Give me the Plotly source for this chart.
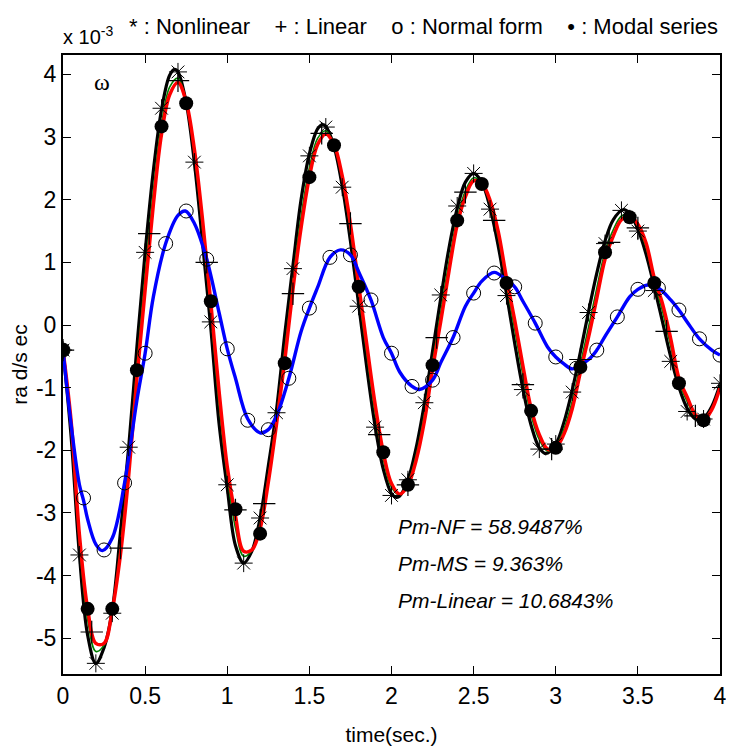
import plotly.graph_objects as go

# time axis (s) and responses in units of 1e-3 rad/sec
# nonlinear (black)
t_nl = [0.0, 0.05, 0.1, 0.15, 0.2, 0.25, 0.3, 0.35, 0.4, 0.45, 0.5, 0.55, 0.6, 0.65, 0.68, 0.7, 0.75, 0.8, 0.85, 0.9,
        0.95, 1.0, 1.05, 1.1, 1.15, 1.2, 1.25, 1.3, 1.35, 1.4, 1.45, 1.5, 1.55, 1.58, 1.6, 1.65, 1.7, 1.75, 1.8, 1.85,
        1.9, 1.95, 2.0, 2.03, 2.05, 2.1, 2.15, 2.2, 2.25, 2.3, 2.35, 2.4, 2.45, 2.5, 2.55, 2.6, 2.65, 2.7, 2.75, 2.8,
        2.85, 2.9, 2.94, 3.0, 3.05, 3.1, 3.15, 3.2, 3.25, 3.3, 3.35, 3.41, 3.45, 3.5, 3.55, 3.6, 3.65, 3.7, 3.75, 3.8,
        3.85, 3.87, 3.9, 3.95, 4.0]
y_nl = [-0.4, -1.8, -3.67, -4.95, -5.4, -5.15, -4.55, -3.3, -1.95, -0.35, 1.16, 2.46, 3.44, 3.99, 4.08, 4.04, 3.55, 2.59,
        1.3, -0.05, -1.57, -2.6, -3.52, -3.8, -3.61, -3.08, -2.25, -1.35, -0.15, 0.95, 2.01, 2.73, 3.13, 3.2, 3.17, 2.85,
        2.22, 1.34, 0.33, -0.69, -1.61, -2.3, -2.69, -2.75, -2.73, -2.47, -1.96, -1.26, -0.42, 0.43, 1.23, 1.86, 2.28,
        2.42, 2.28, 1.87, 1.26, 0.5, -0.29, -1.02, -1.6, -1.96, -2.05, -1.9, -1.55, -1.04, -0.43, 0.22, 0.83, 1.34,
        1.68, 1.84, 1.78, 1.53, 1.13, 0.61, 0.05, -0.51, -0.99, -1.33, -1.5, -1.52, -1.49, -1.3, -0.95]

# linear (green) and modal series (red) share a 0.05 s grid
t_grid = [0.0, 0.05, 0.1, 0.15, 0.2, 0.25, 0.3, 0.35, 0.4, 0.45, 0.5, 0.55, 0.6, 0.65, 0.7, 0.75, 0.8, 0.85, 0.9, 0.95,
          1.0, 1.05, 1.1, 1.15, 1.2, 1.25, 1.3, 1.35, 1.4, 1.45, 1.5, 1.55, 1.6, 1.65, 1.7, 1.75, 1.8, 1.85, 1.9, 1.95,
          2.0, 2.05, 2.1, 2.15, 2.2, 2.25, 2.3, 2.35, 2.4, 2.45, 2.5, 2.55, 2.6, 2.65, 2.7, 2.75, 2.8, 2.85, 2.9, 2.95,
          3.0, 3.05, 3.1, 3.15, 3.2, 3.25, 3.3, 3.35, 3.4, 3.45, 3.5, 3.55, 3.6, 3.65, 3.7, 3.75, 3.8, 3.85, 3.9, 3.95,
          4.0]
y_lin = [-0.4, -1.65, -3.48, -4.7, -5.21, -5.11, -4.55, -3.52, -2.22, -0.65, 0.8, 2.14, 3.21, 3.8, 3.94, 3.56, 2.72,
         1.52, 0.19, -1.26, -2.4, -3.24, -3.69, -3.6, -3.18, -2.41, -1.49, -0.4, 0.72, 1.74, 2.51, 2.98, 3.1, 2.87,
         2.32, 1.5, 0.52, -0.47, -1.4, -2.14, -2.59, -2.71, -2.52, -2.08, -1.43, -0.59, 0.21, 1.01, 1.7, 2.14, 2.35,
         2.27, 1.94, 1.4, 0.65, -0.07, -0.8, -1.44, -1.83, -2.01, -1.94, -1.66, -1.22, -0.62, -0.03, 0.59, 1.17, 1.52,
         1.74, 1.76, 1.58, 1.24, 0.69, 0.22, -0.34, -0.91, -1.22, -1.46, -1.51, -1.33, -0.98]
y_ms = [-0.4, -1.55, -3.35, -4.53, -5.08, -5.08, -4.55, -3.66, -2.4, -0.85, 0.56, 1.92, 3.05, 3.68, 3.87, 3.56, 2.8,
        1.67, 0.35, -1.05, -2.26, -3.05, -3.61, -3.59, -3.25, -2.51, -1.58, -0.57, 0.57, 1.56, 2.36, 2.88, 3.05, 2.88,
        2.38, 1.61, 0.64, -0.32, -1.26, -2.03, -2.53, -2.7, -2.56, -2.16, -1.54, -0.7, 0.06, 0.86, 1.6, 2.05, 2.3,
        2.26, 1.99, 1.49, 0.75, 0.08, -0.65, -1.33, -1.75, -1.98, -1.96, -1.74, -1.34, -0.75, -0.19, 0.43, 1.05, 1.42,
        1.68, 1.74, 1.61, 1.31, 0.75, 0.34, -0.22, -0.85, -1.15, -1.43, -1.52, -1.35, -1.0]

# normal form (blue)
t_nf = [0.0, 0.05, 0.1, 0.125, 0.15, 0.2, 0.24, 0.3, 0.375, 0.45, 0.5, 0.55, 0.625, 0.7, 0.745, 0.8, 0.875, 0.95, 1.0,
        1.05, 1.125, 1.2, 1.25, 1.3, 1.375, 1.45, 1.5, 1.55, 1.625, 1.69, 1.75, 1.8, 1.875, 1.95, 2.0, 2.05, 2.125,
        2.17, 2.25, 2.3, 2.375, 2.45, 2.5, 2.55, 2.625, 2.7, 2.75, 2.8, 2.875, 2.95, 3.0, 3.05, 3.1, 3.2, 3.25, 3.3,
        3.375, 3.45, 3.5, 3.56, 3.625, 3.7, 3.75, 3.8, 3.875, 3.95, 4.0]
y_nf = [-0.4, -1.6, -2.55, -2.8, -3.1, -3.5, -3.6, -3.4, -2.52, -1.2, -0.45, 0.45, 1.3, 1.75, 1.82, 1.62, 1.05, 0.2,
        -0.38, -0.85, -1.5, -1.72, -1.67, -1.45, -0.85, -0.1, 0.27, 0.6, 1.08, 1.2, 1.12, 0.85, 0.4, -0.2, -0.45, -0.75,
        -0.98, -1.03, -0.88, -0.6, -0.2, 0.3, 0.51, 0.7, 0.84, 0.72, 0.61, 0.38, 0.03, -0.35, -0.51, -0.62, -0.7,
        -0.55, -0.4, -0.18, 0.13, 0.45, 0.57, 0.64, 0.59, 0.4, 0.24, 0.05, -0.22, -0.4, -0.48]

# marker samples
t_star = [0.0, 0.1, 0.2, 0.3, 0.4, 0.5, 0.6, 0.7, 0.8, 0.9, 1.0, 1.1, 1.2, 1.3, 1.4, 1.5, 1.6, 1.7, 1.8, 1.9, 2.0,
          2.1, 2.2, 2.3, 2.4, 2.5, 2.6, 2.7, 2.8, 2.9, 3.0, 3.1, 3.2, 3.3, 3.4, 3.5, 3.6, 3.7, 3.8, 3.9, 4.0]
y_star = [-0.4, -3.67, -5.4, -4.6, -1.95, 1.16, 3.46, 4.04, 2.6, 0.05, -2.55, -3.8, -3.08, -1.4, 0.9, 2.7, 3.16, 2.2,
          0.3, -1.63, -2.72, -2.47, -1.24, 0.48, 1.9, 2.42, 1.85, 0.47, -1.03, -1.98, -1.9, -1.07, 0.2, 1.3, 1.83, 1.5,
          0.55, -0.58, -1.38, -1.5, -0.93]
t_plus = [0.0, 0.175, 0.35, 0.525, 0.7, 0.875, 1.05, 1.225, 1.4, 1.575, 1.75, 1.925, 2.1, 2.275, 2.45, 2.625, 2.8,
          2.975, 3.15, 3.325, 3.5, 3.675, 3.85]
y_plus = [-0.4, -4.9, -3.56, 1.46, 3.9, 1.0, -2.95, -2.85, 0.5, 3.06, 1.62, -1.75, -2.55, -0.2, 2.12, 1.67, -0.95,
          -1.98, -0.55, 1.32, 1.55, -0.1, -1.45]
t_circ = [0.0, 0.125, 0.25, 0.375, 0.5, 0.625, 0.75, 0.875, 1.0, 1.125, 1.25, 1.375, 1.5, 1.625, 1.75, 1.875, 2.0,
          2.125, 2.25, 2.375, 2.5, 2.625, 2.75, 2.875, 3.0, 3.125, 3.25, 3.375, 3.5, 3.625, 3.75, 3.875, 4.0]
y_circ = [-0.4, -2.76, -3.59, -2.52, -0.45, 1.3, 1.82, 1.05, -0.38, -1.52, -1.67, -0.85, 0.27, 1.08, 1.12, 0.4, -0.45,
          -0.98, -0.88, -0.2, 0.51, 0.83, 0.61, 0.03, -0.51, -0.69, -0.4, 0.13, 0.57, 0.59, 0.24, -0.22, -0.48]
t_dot = [0.0, 0.15, 0.3, 0.45, 0.6, 0.75, 0.9, 1.05, 1.2, 1.35, 1.5, 1.65, 1.8, 1.95, 2.1, 2.25, 2.4, 2.55, 2.7,
         2.85, 3.0, 3.15, 3.3, 3.45, 3.6, 3.75, 3.9]
y_dot = [-0.4, -4.53, -4.53, -0.72, 3.17, 3.54, 0.38, -2.94, -3.33, -0.61, 2.36, 2.87, 0.61, -2.03, -2.55, -0.64, 1.67,
         2.25, 0.67, -1.37, -1.96, -0.67, 1.16, 1.72, 0.67, -0.93, -1.52]

# axis ticks (matlab style, plain hyphen for minus)
y_tickvals = [-5, -4, -3, -2, -1, 0, 1, 2, 3, 4]
y_ticktext = ["-5", "-4", "-3", "-2", "-1", "0", "1", "2", "3", "4"]
x_tickvals = [0, 0.5, 1, 1.5, 2, 2.5, 3, 3.5, 4]
x_ticktext = ["0", "0.5", "1", "1.5", "2", "2.5", "3", "3.5", "4"]

pm_text = ["Pm-NF = 58.9487%", "Pm-MS = 9.363%", "Pm-Linear = 10.6843%"]
legend_text = "* : Nonlinear    + : Linear    o : Normal form    \u2022 : Modal series"

FONT = "Liberation Sans, Arial, sans-serif"

fig = go.Figure()

# curves
fig.add_trace(go.Scatter(x=t_nl, y=y_nl, mode="lines", line=dict(color="black", width=3.2, shape="spline")))
fig.add_trace(go.Scatter(x=t_grid, y=y_lin, mode="lines", line=dict(color="green", width=1.6, shape="spline")))
fig.add_trace(go.Scatter(x=t_grid, y=y_ms, mode="lines", line=dict(color="red", width=3.5, shape="spline")))
fig.add_trace(go.Scatter(x=t_nf, y=y_nf, mode="lines", line=dict(color="blue", width=3.4, shape="spline")))

# markers (all black, like the matlab plot)
fig.add_trace(go.Scatter(x=t_star, y=y_star, mode="markers",
                         marker=dict(symbol="asterisk-open", size=15, color="black",
                                     line=dict(color="black", width=1))))
fig.add_trace(go.Scatter(x=t_plus, y=y_plus, mode="markers",
                         marker=dict(symbol="cross-thin-open", size=16, color="black",
                                     line=dict(color="black", width=1.2))))
fig.add_trace(go.Scatter(x=t_circ, y=y_circ, mode="markers",
                         marker=dict(symbol="circle-open", size=14, color="black", line=dict(color="black", width=1))))
fig.add_trace(go.Scatter(x=t_dot, y=y_dot, mode="markers",
                         marker=dict(symbol="circle", size=14, color="black", line=dict(color="black", width=0))))

# percent labels
for i, s in enumerate(pm_text):
    fig.add_annotation(x=2.03, y=-3.22 - 0.585 * i, text="<i>" + s + "</i>", showarrow=False, xanchor="left",
                       font=dict(family=FONT, size=21, color="black"))

fig.add_annotation(x=0.24, y=3.88, text="\u03c9", showarrow=False,
                   font=dict(family="Liberation Serif, Times New Roman, serif", size=24, color="black"))

# exponent and marker key above the axes
fig.add_annotation(xref="paper", yref="paper", x=-0.003, y=1.008, yanchor="bottom", xanchor="left",
                   text="x 10<sup>-3</sup>", showarrow=False, font=dict(family=FONT, size=20, color="black"))
fig.add_annotation(xref="paper", yref="paper", x=1.0, y=1.022, yanchor="bottom", xanchor="right",
                   text=legend_text, showarrow=False, font=dict(family=FONT, size=22, color="black"))

fig.update_xaxes(range=[0, 4], tickvals=x_tickvals, ticktext=x_ticktext, showgrid=False, zeroline=False,
                 showline=True, linecolor="black", linewidth=2, mirror="ticks", ticks="inside", ticklen=8,
                 tickcolor="black", tickwidth=1, tickfont=dict(family=FONT, size=23, color="black"),
                 title=dict(text="time(sec.)", font=dict(family=FONT, size=21, color="black"), standoff=20))
fig.update_yaxes(range=[-5.57, 4.31], tickvals=y_tickvals, ticktext=y_ticktext, showgrid=False, zeroline=False,
                 showline=True, linecolor="black", linewidth=2, mirror="ticks", ticks="inside", ticklen=8,
                 tickcolor="black", tickwidth=1, tickfont=dict(family=FONT, size=23, color="black"),
                 title=dict(text="ra d/s ec", font=dict(family=FONT, size=21, color="black"), standoff=6))

# page body adds an 8px margin, so the figure is 8px smaller and the margins shifted
fig.update_layout(width=726, height=743, margin=dict(l=55, r=7, t=47, b=77), plot_bgcolor="white",
                  paper_bgcolor="white", showlegend=False)

fig.write_html("out.html")
